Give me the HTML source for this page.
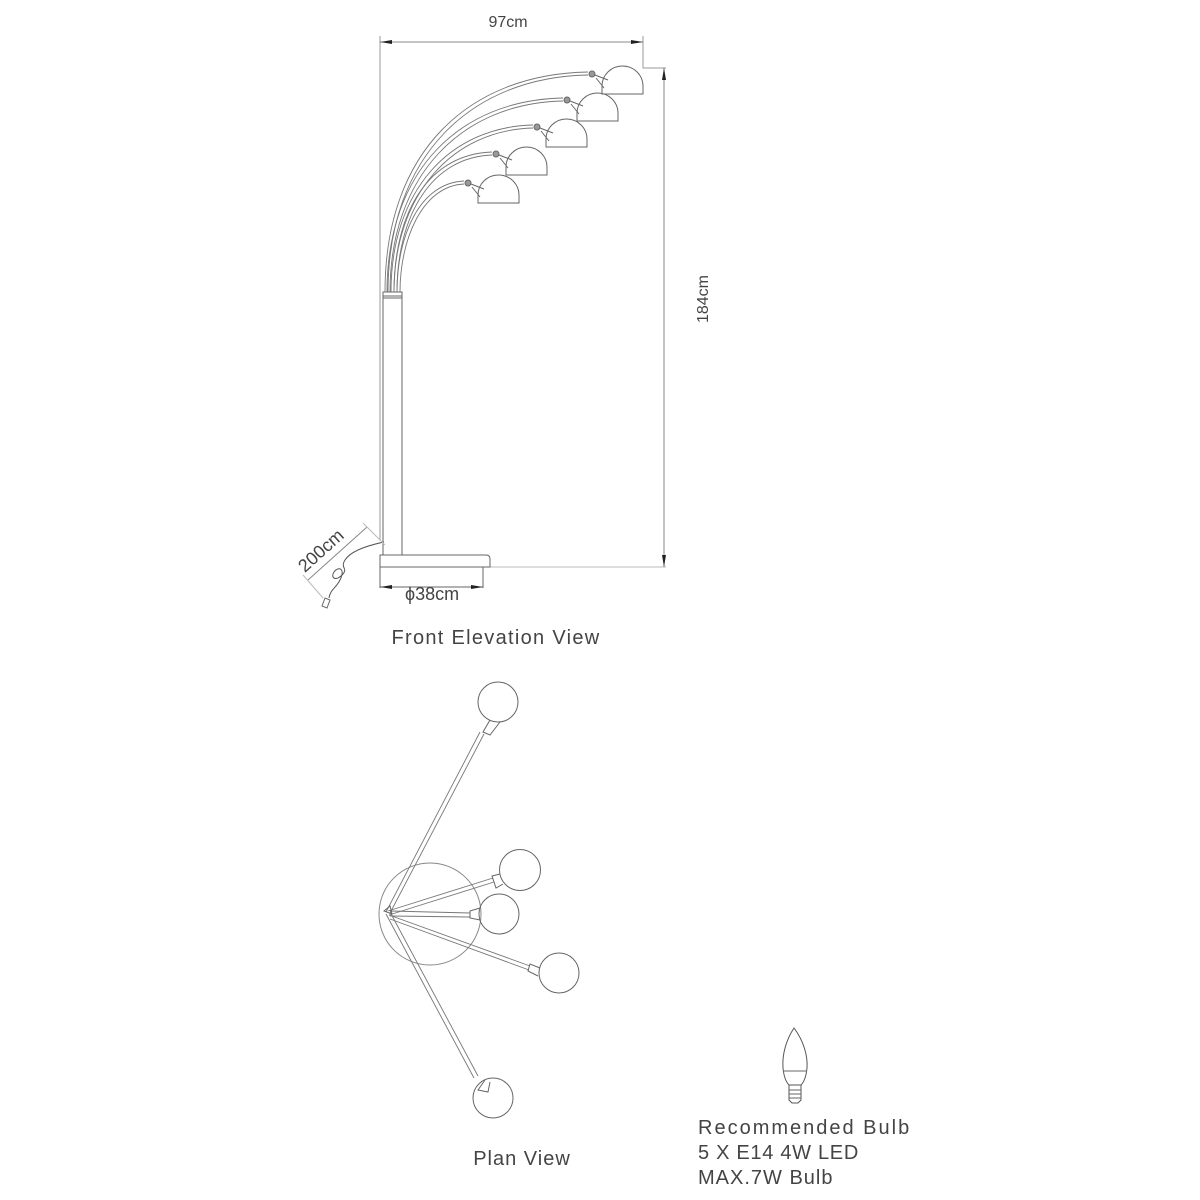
<!DOCTYPE html>
<html><head><meta charset="utf-8"><style>
html,body{margin:0;padding:0;background:#fff;}
svg{display:block;}
text{font-family:"Liberation Sans",sans-serif;fill:#444;}
</style></head><body>
<svg width="1200" height="1200" viewBox="0 0 1200 1200" xmlns="http://www.w3.org/2000/svg">
<g fill="none" stroke="#666" stroke-width="1">
<line x1="380" y1="36" x2="380" y2="540" stroke="#999"/>
<line x1="643" y1="36" x2="643" y2="68" stroke="#999"/>
<line x1="380" y1="42" x2="643" y2="42" stroke="#888"/>
<polygon points="380,42 392,40 392,44" fill="#222" stroke="none"/>
<polygon points="643,42 631,40 631,44" fill="#222" stroke="none"/>
<line x1="643" y1="68" x2="666" y2="68" stroke="#999"/>
<line x1="490" y1="567" x2="666" y2="567" stroke="#bbb"/>
<line x1="664" y1="68" x2="664" y2="567" stroke="#888"/>
<polygon points="664,68 662,80 666,80" fill="#222" stroke="none"/>
<polygon points="664,567 662,555 666,555" fill="#222" stroke="none"/>
<rect x="383" y="296" width="19" height="259"/>
<rect x="383" y="292" width="19" height="6"/>
<path d="M380 555 H486 Q490 555 490 559 V567 H380 Z"/>
<line x1="380" y1="567" x2="380" y2="588"/>
<line x1="483" y1="567" x2="483" y2="588"/>
<line x1="380" y1="587" x2="483" y2="587"/>
<polygon points="380,587 392,585 392,589" fill="#222" stroke="none"/>
<polygon points="483,587 471,585 471,589" fill="#222" stroke="none"/>
<g stroke="#777" stroke-width="0.9">
<path d="M385 292 C385 150 470 74 588 72"/><path d="M388 292 C388 155 472 77 588 75"/>
<path d="M387 292 C387 170 460 100 563 98"/><path d="M390 292 C390 175 462 103 563 101"/>
<path d="M391 292 C391 190 450 127 533 125"/><path d="M394 292 C394 195 452 130 533 128"/>
<path d="M394 292 C394 210 430 154 492 152"/><path d="M397 292 C397 215 432 157 492 155"/>
<path d="M397 292 C397 235 420 183 464 181"/><path d="M400 292 C400 240 422 186 464 184"/>
</g>
<g>
<path d="M602 94 V86 A20.5 20 0 0 1 643 86 V94 Z"/><circle cx="592" cy="74" r="3" fill="#999"/><path d="M595 75 L608 80 M596 78 L604 88"/>
<path d="M577 121 V113 A20.5 20 0 0 1 618 113 V121 Z"/><circle cx="567" cy="100" r="3" fill="#999"/><path d="M570 101 L583 106 M571 104 L579 114"/>
<path d="M546 147 V139 A20.5 20 0 0 1 587 139 V147 Z"/><circle cx="537" cy="127" r="3" fill="#999"/><path d="M540 128 L553 133 M541 131 L549 141"/>
<path d="M506 175 V167 A20.5 20 0 0 1 547 167 V175 Z"/><circle cx="496" cy="154" r="3" fill="#999"/><path d="M499 155 L512 160 M500 158 L508 168"/>
<path d="M478 203 V195 A20.5 20 0 0 1 519 195 V203 Z"/><circle cx="468" cy="183" r="3" fill="#999"/><path d="M471 184 L484 189 M472 187 L480 197"/>
</g>
<path d="M384 542 C365 546 350 552 345 560 C340 568 348 568 343 574 C336 582 330 578 334 572 C338 566 346 568 340 580 C336 588 330 590 329 598" stroke="#555"/>
<path d="M325 598 l-3 8 l5 2 l3 -8 z"/>
<line x1="367" y1="527" x2="308" y2="580" stroke="#888"/>
<line x1="363" y1="523" x2="385" y2="545" stroke="#bbb"/>
<line x1="303" y1="575" x2="323" y2="598" stroke="#bbb"/>
<circle cx="430" cy="914" r="51" stroke="#888"/>
<g stroke="#777" stroke-width="0.9">
<path d="M386 912 L480 732 M390 913 L484 734"/>
<path d="M386 914 L474 1078 M390 912 L478 1076"/>
<path d="M388 911 L493 878 M389 915 L494 882"/>
<path d="M390 911 L470 913 M390 916 L470 917"/>
<path d="M389 915 L530 966 M390 919 L529 970"/>
</g>
<circle cx="498" cy="702" r="20"/><path d="M490 720 L483 732 L490 735 L500 722"/>
<circle cx="493" cy="1098" r="20"/><path d="M485 1080 L478 1090 L488 1092 L490 1082"/>
<circle cx="520" cy="870" r="20.5"/><path d="M500 874 L492 876 L496 888 L503 884"/>
<circle cx="499" cy="914" r="20"/><path d="M480 908 L470 911 L470 918 L480 920"/>
<circle cx="559" cy="973" r="20"/><path d="M540 968 L530 964 L528 971 L538 976"/>
<path d="M384 911 L390 906 L392 914 Z"/>
<path d="M794 1028 C786 1040 782 1055 783 1068 C784 1078 787 1083 789 1085 H801 C803 1083 806 1078 807 1068 C808 1055 803 1040 794 1028 Z" stroke="#555"/>
<line x1="784" y1="1071" x2="806" y2="1071"/>
<path d="M789 1085 L789 1100 L792 1103 H798 L801 1100 L801 1085" stroke="#555"/>
<path d="M789 1090 H801 M789 1094 H801 M789 1098 H801"/>
</g>
<text x="508" y="27" font-size="16" text-anchor="middle">97cm</text>
<text transform="translate(708,299) rotate(-90)" font-size="16" text-anchor="middle">184cm</text>
<text transform="translate(325,555) rotate(-42)" font-size="18" text-anchor="middle">200cm</text>
<text x="405" y="600" font-size="18">ϕ38cm</text>
<text x="496" y="644" font-size="20" text-anchor="middle" fill="#666" letter-spacing="1.3">Front Elevation View</text>
<text x="522" y="1165" font-size="20" text-anchor="middle" fill="#666" letter-spacing="1">Plan View</text>
<text x="698" y="1134" font-size="20" fill="#222" letter-spacing="2">Recommended Bulb</text>
<text x="698" y="1159" font-size="20" fill="#222" letter-spacing="0.7">5 X E14 4W LED</text>
<text x="698" y="1184" font-size="20" fill="#222" letter-spacing="1">MAX.7W Bulb</text>
</svg>
</body></html>
